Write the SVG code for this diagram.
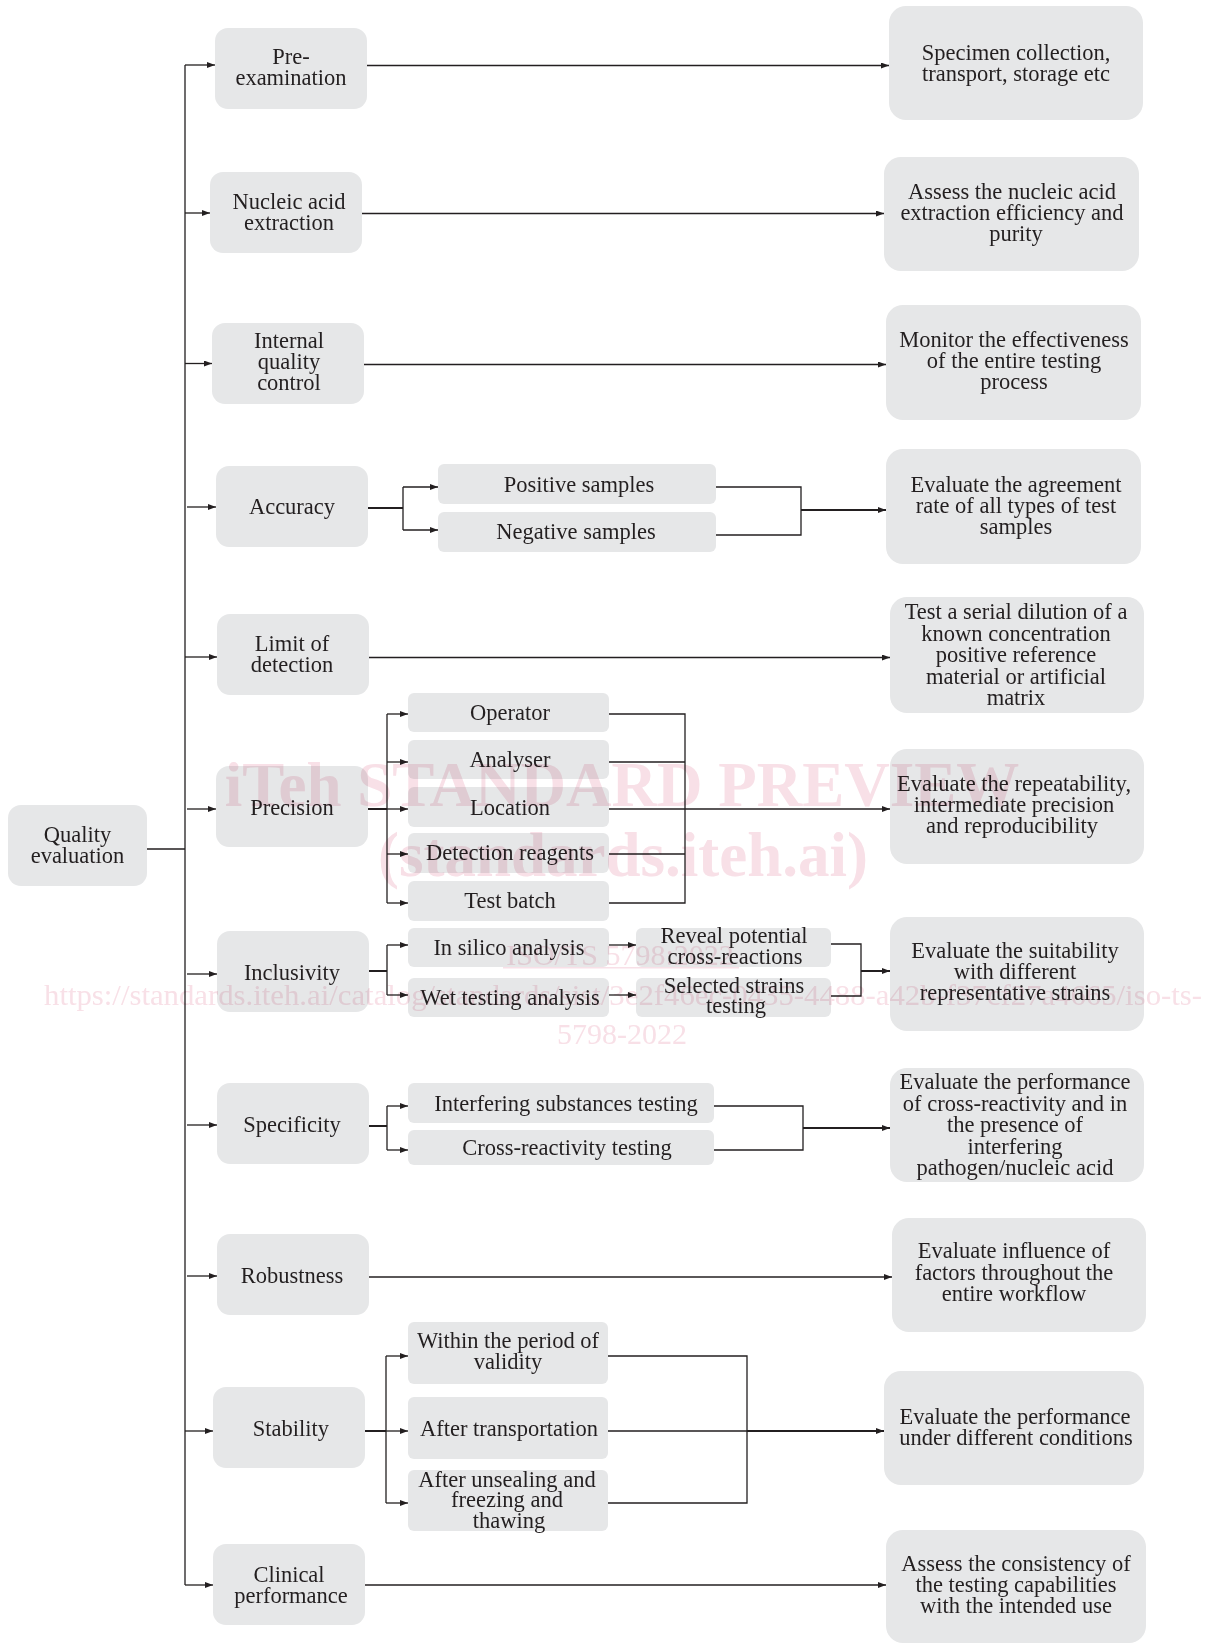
<svg xmlns="http://www.w3.org/2000/svg" width="1206" height="1643" viewBox="0 0 1206 1643">
<defs>
<style>
.bx{fill:#e6e7e8}
text{font-family:"Liberation Serif","Times New Roman",serif;font-size:22.5px;fill:#231f20;text-anchor:middle}
.c{fill:none;stroke:#231f20;stroke-width:1.3}
.t{fill:none;stroke:#231f20;stroke-width:2}
.wm text{fill:#f8e0e7;font-family:"Liberation Serif","Times New Roman",serif}
.wm{mix-blend-mode:multiply}
</style>
<marker id="ah" viewBox="0 0 8 6" refX="8" refY="3" markerWidth="8" markerHeight="6" orient="auto" markerUnits="userSpaceOnUse"><path d="M0,0 L8,3 L0,6 z" fill="#231f20"/></marker>
</defs>
<rect width="1206" height="1643" fill="#fff"/>

<g id="n-quality"><rect class="bx" x="8" y="805" width="139" height="81" rx="13"/><text x="77.5" y="842">Quality</text><text x="77.5" y="863">evaluation</text></g>

<g id="n-pre"><rect class="bx" x="215" y="28" width="152" height="81" rx="13"/><text x="291" y="64">Pre-</text><text x="291" y="85">examination</text></g>
<g id="n-nucleic"><rect class="bx" x="210" y="172" width="152" height="81" rx="13"/><text x="289" y="208.5">Nucleic acid</text><text x="289" y="229.5">extraction</text></g>
<g id="n-iqc"><rect class="bx" x="212" y="323" width="152" height="81" rx="13"/><text x="289" y="348">Internal</text><text x="289" y="369">quality</text><text x="289" y="390">control</text></g>
<g id="n-accuracy"><rect class="bx" x="216" y="466" width="152" height="81" rx="13"/><text x="292" y="514">Accuracy</text></g>
<g id="n-lod"><rect class="bx" x="217" y="614" width="152" height="81" rx="13"/><text x="292" y="651">Limit of</text><text x="292" y="672">detection</text></g>
<g id="n-precision"><rect class="bx" x="216" y="766" width="152" height="81" rx="13"/><text x="292" y="814.5">Precision</text></g>
<g id="n-inclusivity"><rect class="bx" x="217" y="931" width="152" height="81" rx="13"/><text x="292" y="979.5">Inclusivity</text></g>
<g id="n-specificity"><rect class="bx" x="217" y="1083" width="152" height="81" rx="13"/><text x="292" y="1131.5">Specificity</text></g>
<g id="n-robustness"><rect class="bx" x="217" y="1234" width="152" height="81" rx="13"/><text x="292" y="1282.5">Robustness</text></g>
<g id="n-stability"><rect class="bx" x="213" y="1387" width="152" height="81" rx="13"/><text x="291" y="1436">Stability</text></g>
<g id="n-clinical"><rect class="bx" x="213" y="1544" width="152" height="81" rx="13"/><text x="289" y="1581.5">Clinical</text><text x="291" y="1602.5">performance</text></g>

<g id="n-positive"><rect class="bx" x="438" y="464" width="278" height="40" rx="6"/><text x="579" y="491.5">Positive samples</text></g>
<g id="n-negative"><rect class="bx" x="438" y="512" width="278" height="40" rx="6"/><text x="576" y="539">Negative samples</text></g>

<g id="n-operator"><rect class="bx" x="408" y="693" width="201" height="39" rx="6"/><text x="510" y="719.5">Operator</text></g>
<g id="n-analyser"><rect class="bx" x="408" y="740" width="201" height="39" rx="6"/><text x="510" y="767">Analyser</text></g>
<g id="n-location"><rect class="bx" x="408" y="787" width="201" height="40" rx="6"/><text x="510" y="814.5">Location</text></g>
<g id="n-reagents"><rect class="bx" x="408" y="833" width="201" height="40" rx="6"/><text x="510" y="860">Detection reagents</text></g>
<g id="n-batch"><rect class="bx" x="408" y="881" width="201" height="40" rx="6"/><text x="510" y="908">Test batch</text></g>

<g id="n-silico"><rect class="bx" x="408" y="928" width="201" height="39" rx="6"/><text x="509" y="955">In silico analysis</text></g>
<g id="n-wet"><rect class="bx" x="408" y="978" width="201" height="39" rx="6"/><text x="510" y="1005">Wet testing analysis</text></g>
<g id="n-reveal"><rect class="bx" x="636" y="928" width="195" height="39" rx="6"/><text x="734" y="943">Reveal potential</text><text x="735" y="963.5">cross-reactions</text></g>
<g id="n-selected"><rect class="bx" x="636" y="978" width="195" height="39" rx="6"/><text x="734" y="992.5">Selected strains</text><text x="736" y="1013">testing</text></g>

<g id="n-interfering"><rect class="bx" x="408" y="1083" width="306" height="40" rx="6"/><text x="566" y="1111">Interfering substances testing</text></g>
<g id="n-crossreact"><rect class="bx" x="408" y="1130" width="306" height="35" rx="6"/><text x="567" y="1155">Cross-reactivity testing</text></g>

<g id="n-validity"><rect class="bx" x="408" y="1322" width="200" height="62" rx="6"/><text x="508" y="1348">Within the period of</text><text x="508" y="1369">validity</text></g>
<g id="n-transport"><rect class="bx" x="408" y="1397" width="200" height="62" rx="6"/><text x="509" y="1436">After transportation</text></g>
<g id="n-unsealing"><rect class="bx" x="408" y="1470" width="200" height="61" rx="6"/><text x="507" y="1486.5">After unsealing and</text><text x="507" y="1507">freezing and</text><text x="509" y="1528">thawing</text></g>

<g id="r-pre"><rect class="bx" x="889" y="6" width="254" height="114" rx="17"/><text x="1016" y="59.5">Specimen collection,</text><text x="1016" y="80.5">transport, storage etc</text></g>
<g id="r-nucleic"><rect class="bx" x="884" y="157" width="255" height="114" rx="17"/><text x="1012" y="199">Assess the nucleic acid</text><text x="1012" y="220">extraction efficiency and</text><text x="1016" y="241">purity</text></g>
<g id="r-iqc"><rect class="bx" x="886" y="305" width="255" height="115" rx="17"/><text x="1014" y="347">Monitor the effectiveness</text><text x="1014" y="368">of the entire testing</text><text x="1014" y="389">process</text></g>
<g id="r-accuracy"><rect class="bx" x="886" y="449" width="255" height="115" rx="17"/><text x="1016" y="491.5">Evaluate the agreement</text><text x="1016" y="512.5">rate of all types of test</text><text x="1016" y="533.5">samples</text></g>
<g id="r-lod"><rect class="bx" x="890" y="597" width="254" height="116" rx="17"/><text x="1016" y="619">Test a serial dilution of a</text><text x="1016" y="640.5">known concentration</text><text x="1016" y="662">positive reference</text><text x="1016" y="683.5">material or artificial</text><text x="1016" y="705">matrix</text></g>
<g id="r-precision"><rect class="bx" x="890" y="749" width="254" height="115" rx="17"/><text x="1014" y="790.5">Evaluate the repeatability,</text><text x="1014" y="811.5">intermediate precision</text><text x="1012" y="832.5">and reproducibility</text></g>
<g id="r-inclusivity"><rect class="bx" x="890" y="917" width="254" height="114" rx="17"/><text x="1015" y="958">Evaluate the suitability</text><text x="1015" y="979">with different</text><text x="1015" y="1000">representative strains</text></g>
<g id="r-specificity"><rect class="bx" x="890" y="1068" width="254" height="114" rx="17"/><text x="1015" y="1089">Evaluate the performance</text><text x="1015" y="1110.5">of cross-reactivity and in</text><text x="1015" y="1132">the presence of</text><text x="1015" y="1153.5">interfering</text><text x="1015" y="1175">pathogen/nucleic acid</text></g>
<g id="r-robustness"><rect class="bx" x="892" y="1218" width="254" height="114" rx="17"/><text x="1014" y="1258">Evaluate influence of</text><text x="1014" y="1279.5">factors throughout the</text><text x="1014" y="1300.5">entire workflow</text></g>
<g id="r-stability"><rect class="bx" x="884" y="1371" width="260" height="114" rx="17"/><text x="1015" y="1424">Evaluate the performance</text><text x="1016" y="1445">under different conditions</text></g>
<g id="r-clinical"><rect class="bx" x="886" y="1530" width="260" height="113" rx="17"/><text x="1016" y="1571">Assess the consistency of</text><text x="1016" y="1592">the testing capabilities</text><text x="1016" y="1613">with the intended use</text></g>

<g id="connectors">
<path class="c" d="M147,849 H185 M185,65 V1585"/>
<path class="c" marker-end="url(#ah)" d="M185,65 H215"/>
<path class="c" marker-end="url(#ah)" d="M185,213 H210"/>
<path class="c" marker-end="url(#ah)" d="M185,363.5 H212"/>
<path class="c" marker-end="url(#ah)" d="M187,507 H216"/>
<path class="c" marker-end="url(#ah)" d="M185,657 H217"/>
<path class="c" marker-end="url(#ah)" d="M187,809 H216"/>
<path class="c" marker-end="url(#ah)" d="M187,974 H217"/>
<path class="c" marker-end="url(#ah)" d="M187,1125 H217"/>
<path class="c" marker-end="url(#ah)" d="M187,1276 H217"/>
<path class="c" marker-end="url(#ah)" d="M185,1431 H213"/>
<path class="c" marker-end="url(#ah)" d="M185,1585 H213"/>

<path class="c" marker-end="url(#ah)" d="M367,65.5 H889"/>
<path class="c" marker-end="url(#ah)" d="M362,213.5 H884"/>
<path class="c" marker-end="url(#ah)" d="M364,364.5 H886"/>
<path class="c" marker-end="url(#ah)" d="M369,657.5 H890"/>
<path class="c" marker-end="url(#ah)" d="M369,1277 H892"/>
<path class="c" marker-end="url(#ah)" d="M365,1585 H886"/>

<path class="t" d="M368,508 H403"/>
<path class="c" d="M403,508 V487 M403,508 V530"/>
<path class="c" marker-end="url(#ah)" d="M403,487 H438"/>
<path class="c" marker-end="url(#ah)" d="M403,530 H438"/>
<path class="c" d="M716,487 H801 V535 H716"/>
<path class="t" marker-end="url(#ah)" d="M801,510 H886"/>

<path class="t" d="M368,809 H387"/>
<path class="c" d="M387,714 V903"/>
<path class="c" marker-end="url(#ah)" d="M387,714 H408"/>
<path class="c" marker-end="url(#ah)" d="M387,762 H408"/>
<path class="c" marker-end="url(#ah)" d="M387,809 H408"/>
<path class="c" marker-end="url(#ah)" d="M387,854 H408"/>
<path class="c" marker-end="url(#ah)" d="M387,903 H408"/>
<path class="c" d="M609,714 H685 V903 H609 M609,762 H685 M609,854 H685"/>
<path class="c" marker-end="url(#ah)" d="M609,809 H890"/>

<path class="t" d="M369,971 H387"/>
<path class="c" d="M387,945 V995"/>
<path class="c" marker-end="url(#ah)" d="M387,945 H408"/>
<path class="c" marker-end="url(#ah)" d="M387,995 H408"/>
<path class="c" marker-end="url(#ah)" d="M609,945 H636"/>
<path class="c" marker-end="url(#ah)" d="M609,995 H636"/>
<path class="c" d="M831,944 H861 V996 H831"/>
<path class="t" marker-end="url(#ah)" d="M861,971 H890"/>

<path class="t" d="M369,1126 H387"/>
<path class="c" d="M387,1106 V1150"/>
<path class="c" marker-end="url(#ah)" d="M387,1106 H408"/>
<path class="c" marker-end="url(#ah)" d="M387,1150 H408"/>
<path class="c" d="M714,1106 H803 V1150 H714"/>
<path class="t" marker-end="url(#ah)" d="M803,1128 H890"/>

<path class="t" d="M365,1431 H386"/>
<path class="c" d="M386,1356 V1503"/>
<path class="c" marker-end="url(#ah)" d="M386,1356 H408"/>
<path class="c" marker-end="url(#ah)" d="M386,1431 H408"/>
<path class="c" marker-end="url(#ah)" d="M386,1503 H408"/>
<path class="c" d="M608,1356 H747 V1503 H608 M608,1431 H747"/>
<path class="t" marker-end="url(#ah)" d="M747,1431 H884"/>
</g>

<g class="wm">
<text x="622" y="806" style="font-size:63px;font-weight:bold">iTeh STANDARD PREVIEW</text>
<text x="623" y="876" style="font-size:63px;font-weight:bold">(standards.iteh.ai)</text>
<text x="620" y="965" style="font-size:30px">ISO/TS 5798:2022</text>
<rect x="503" y="967" width="236" height="1.5" fill="#f8e0e7"/>
<text x="623" y="1005" style="font-size:30px" textLength="1158" lengthAdjust="spacingAndGlyphs">https://standards.iteh.ai/catalog/standards/sist/3e2f46ec-0435-4488-a42b-f37cf27a4665/iso-ts-</text>
<text x="622" y="1044" style="font-size:30px">5798-2022</text>
</g>
</svg>
